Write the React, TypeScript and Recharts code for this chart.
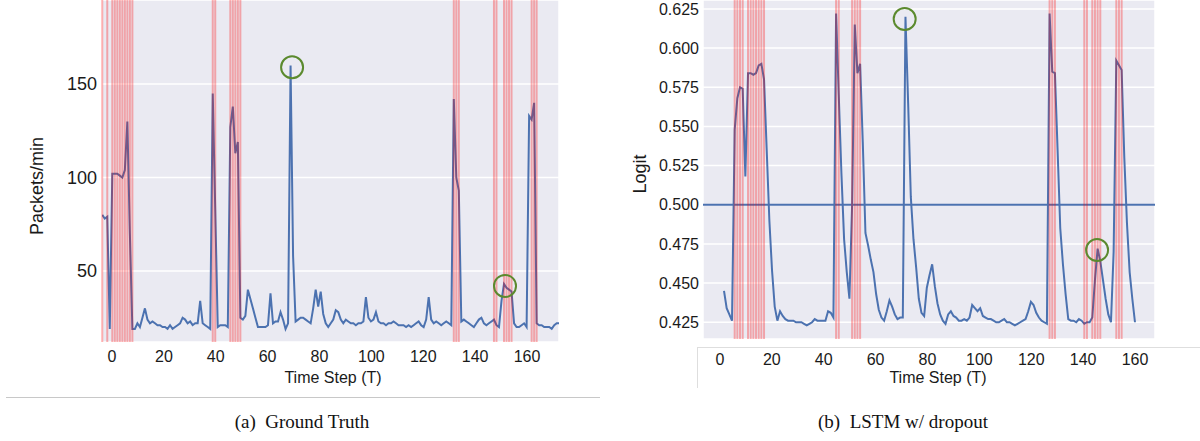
import { LineChart, Line, XAxis, YAxis, CartesianGrid, ReferenceLine, ReferenceDot } from 'recharts';

// (a) ground truth, packets/min per time step, first step is -5
const truthStart = -5;
const truthValues = [
  80, 78, 79, 19, 102, 102, 102, 101, 100, 104, 130, 70, 19,
  19, 22, 20, 25, 30, 24, 22, 23, 22, 21, 21, 20, 20, 19, 21, 19, 20, 21, 22, 25, 24, 22, 23, 21, 22, 22,
  34, 22, 21, 20, 19, 145, 83, 20, 21, 21, 21, 20,
  127, 138, 113, 119, 25, 24, 26, 40, 35, 30, 25, 20, 20, 20, 20, 21, 38, 22, 23, 23, 28, 24, 19, 22,
  160, 58, 23, 24, 25, 25, 24, 23, 22, 30, 40, 31, 39, 27, 22, 20, 22, 24, 29, 28, 24, 22, 24, 23, 22,
  22, 21, 22, 22, 23, 36, 25, 23, 24, 28, 23, 22, 22, 21, 22, 22, 23, 22, 21, 21, 21, 20, 21, 20, 21,
  22, 23, 21, 20, 24, 36, 24, 22, 23, 22, 21, 22, 23, 22, 21, 142, 100, 93, 23, 24, 23, 22, 21, 20,
  22, 24, 25, 22, 21, 22, 23, 24, 21, 20, 34, 43, 41, 40, 39, 22, 20, 20, 21, 22, 20, 133, 131, 140,
  22, 21, 21, 20, 20, 20, 19, 21, 22, 22,
];
const truthAnomalies = [-5, -3, -1, 0, 1, 2, 3, 4, 5, 6, 7, 39, 40, 46, 47, 48, 49, 50, 135, 136, 137, 151, 152, 155, 156, 157, 158, 166, 167, 168];
const truthCircles = [
  { t: 70.6, v: 159 },
  { t: 155.4, v: 42 },
];
const truthYTicks = [50, 100, 150];
const truthGridX = [0, 40, 80, 120, 160];

// (b) LSTM w/ dropout, logit per time step from 0
const lstmValues = [
  0.445, 0.434, 0.430, 0.426, 0.548, 0.568, 0.575, 0.574, 0.518, 0.584, 0.584, 0.583, 0.584, 0.589,
  0.590, 0.580, 0.535, 0.490, 0.458, 0.435, 0.426, 0.432, 0.429, 0.427, 0.426, 0.426, 0.426, 0.425,
  0.425, 0.425, 0.424, 0.423, 0.424, 0.425, 0.427, 0.426, 0.426, 0.426, 0.426, 0.432, 0.431, 0.428,
  0.622, 0.570, 0.520, 0.478, 0.457, 0.440, 0.500, 0.615, 0.584, 0.590, 0.540, 0.482, 0.474, 0.465,
  0.457, 0.443, 0.433, 0.428, 0.426, 0.432, 0.439, 0.435, 0.430, 0.427, 0.428, 0.428, 0.620, 0.565,
  0.505, 0.478, 0.460, 0.440, 0.431, 0.429, 0.447, 0.455, 0.462, 0.448, 0.437, 0.430, 0.426, 0.424,
  0.430, 0.432, 0.429, 0.428, 0.426, 0.426, 0.427, 0.426, 0.428, 0.436, 0.434, 0.432, 0.434, 0.429,
  0.428, 0.427, 0.427, 0.426, 0.425, 0.425, 0.426, 0.427, 0.425, 0.425, 0.424, 0.423, 0.424, 0.425,
  0.426, 0.427, 0.432, 0.438, 0.436, 0.431, 0.428, 0.426, 0.425, 0.424, 0.622, 0.585, 0.584, 0.535,
  0.485, 0.462, 0.443, 0.427, 0.426, 0.426, 0.425, 0.427, 0.426, 0.424, 0.425, 0.425, 0.428, 0.452,
  0.472, 0.464, 0.452, 0.440, 0.430, 0.425, 0.470, 0.592, 0.589, 0.586, 0.530, 0.488, 0.457, 0.440,
  0.425,
];
const lstmAnomalies = [4, 5, 6, 7, 9, 10, 11, 12, 13, 14, 15, 42, 43, 48, 49, 50, 51, 122, 123, 124, 135, 136, 138, 139, 140, 141, 147, 148, 149];
const lstmCircles = [
  { t: 67.7, v: 0.6186 },
  { t: 139.8, v: 0.4711 },
];
const lstmThreshold = 0.5;
const lstmYTicks = [0.425, 0.45, 0.475, 0.5, 0.525, 0.55, 0.575, 0.6, 0.625];
const lstmGridX = [0, 20, 40, 60, 80, 100, 120, 140, 160];

const timeTicks = [0, 20, 40, 60, 80, 100, 120, 140, 160];

const BLUE = '#4C72B0';
const GREEN = '#5b8a2e';
const SANS = '"Liberation Sans", Arial, Helvetica, sans-serif';
const SERIF = '"Liberation Serif", "Times New Roman", serif';

interface PanelProps {
  data: { t: number; v: number }[];
  anomalies: number[];
  circles: { t: number; v: number }[];
  yDomain: [number, number];
  yTicks: number[];
  yFormat: (v: number) => string;
  yFont: number;
  yAxisWidth: number;
  ySize: number;
  gridX: number[];
  dataDomain: [number, number];
  labelDomain: [number, number];
  rightMargin: number;
  height: number;
  xMargin: number;
  threshold?: number;
}

function Panel(p: PanelProps) {
  return (
    <LineChart width={600} height={p.height} data={p.data} margin={{ top: 0, right: p.rightMargin, bottom: 0, left: 0 }}>
      <CartesianGrid xAxisId="d" fill="#EAEAF2" stroke="#ffffff" strokeWidth={1.5} />
      <XAxis xAxisId="d" dataKey="t" type="number" domain={p.dataDomain} ticks={p.gridX} allowDataOverflow
        tick={false} tickLine={false} axisLine={false} height={1} />
      {/* tick labels of the original sit on a slightly different scale than the grid */}
      <XAxis xAxisId="l" dataKey="t" type="number" domain={p.labelDomain} ticks={timeTicks} allowDataOverflow
        axisLine={false} tickLine={false} tickSize={6} tickMargin={p.xMargin} height={56}
        tick={{ fontSize: 16, fill: '#1a1a1a', fontFamily: SANS }} />
      <YAxis type="number" domain={p.yDomain} ticks={p.yTicks} allowDataOverflow width={p.yAxisWidth}
        axisLine={false} tickLine={false} tickSize={p.ySize} tickMargin={2} tickFormatter={p.yFormat}
        tick={{ fontSize: p.yFont, fill: '#1a1a1a', fontFamily: SANS }} />
      <Line xAxisId="d" dataKey="v" stroke={BLUE} strokeWidth={2} dot={false} isAnimationActive={false} />
      {p.threshold !== undefined && (
        <ReferenceLine xAxisId="d" y={p.threshold} stroke={BLUE} strokeWidth={2} />
      )}
      {p.anomalies.map((a) => (
        <ReferenceLine key={a} xAxisId="d" x={a} stroke="#ff0000" strokeOpacity={0.3} strokeWidth={2} zIndex={450} />
      ))}
      {p.circles.map((c, i) => (
        <ReferenceDot key={i} xAxisId="d" x={c.t} y={c.v} r={11} fill="none" stroke={GREEN} strokeWidth={2} zIndex={460} />
      ))}
    </LineChart>
  );
}

export default function App() {
  const truthData = truthValues.map((v, i) => ({ t: truthStart + i, v }));
  const lstmData = lstmValues.map((v, i) => ({ t: i, v }));

  return (
    <div style={{ position: 'absolute', left: 0, top: 0, width: 1200, height: 441, background: '#fff', overflow: 'hidden' }}>
      {/* (a) ground truth */}
      <div style={{ position: 'absolute', left: 0, top: 0 }}>
        <Panel data={truthData} anomalies={truthAnomalies} circles={truthCircles}
          yDomain={[12, 195]} yTicks={truthYTicks} yFormat={(v) => String(v)} yFont={18} yAxisWidth={102} ySize={3}
          gridX={truthGridX} dataDomain={[-5.1, 176.9]} labelDomain={[-3.86, 172.34]}
          rightMargin={41} height={399} xMargin={2} />
      </div>
      <div style={{ position: 'absolute', left: 37, top: 186, transform: 'translate(-50%, -50%) rotate(-90deg)', fontFamily: SANS, fontSize: 18, color: '#1a1a1a', whiteSpace: 'nowrap' }}>
        Packets/min
      </div>
      <div style={{ position: 'absolute', left: 333, top: 378, transform: 'translate(-50%, -50%)', fontFamily: SANS, fontSize: 16, color: '#1a1a1a', whiteSpace: 'nowrap' }}>
        Time Step (T)
      </div>
      <div style={{ position: 'absolute', left: 6, top: 397, width: 594, borderTop: '1px solid #c8c8c8' }} />

      {/* (b) LSTM w/ dropout */}
      <div style={{ position: 'absolute', left: 697, top: 347, width: 503, height: 40, borderTop: '1px solid #dedede', borderLeft: '1px solid #dedede' }} />
      <div style={{ position: 'absolute', left: 600, top: 0 }}>
        <Panel data={lstmData} anomalies={lstmAnomalies} circles={lstmCircles} threshold={lstmThreshold}
          yDomain={[0.4143, 0.6307]} yTicks={lstmYTicks} yFormat={(v) => v.toFixed(3)} yFont={16} yAxisWidth={103} ySize={2}
          gridX={lstmGridX} dataDomain={[-7.87, 161.5]} labelDomain={[-6.55, 167.7]}
          rightMargin={45} height={396} xMargin={8} />
      </div>
      <div style={{ position: 'absolute', left: 640, top: 174, transform: 'translate(-50%, -50%) rotate(-90deg)', fontFamily: SANS, fontSize: 18, color: '#1a1a1a', whiteSpace: 'nowrap' }}>
        Logit
      </div>
      <div style={{ position: 'absolute', left: 938, top: 378, transform: 'translate(-50%, -50%)', fontFamily: SANS, fontSize: 16, color: '#1a1a1a', whiteSpace: 'nowrap' }}>
        Time Step (T)
      </div>

      {/* captions */}
      <div style={{ position: 'absolute', left: 0, top: 411, width: 604, textAlign: 'center', fontFamily: SERIF, fontSize: 19, color: '#111', whiteSpace: 'pre' }}>
        {'(a)  Ground Truth'}
      </div>
      <div style={{ position: 'absolute', left: 603, top: 411, width: 600, textAlign: 'center', fontFamily: SERIF, fontSize: 19, color: '#111', whiteSpace: 'pre' }}>
        {'(b)  LSTM w/ dropout'}
      </div>
    </div>
  );
}
